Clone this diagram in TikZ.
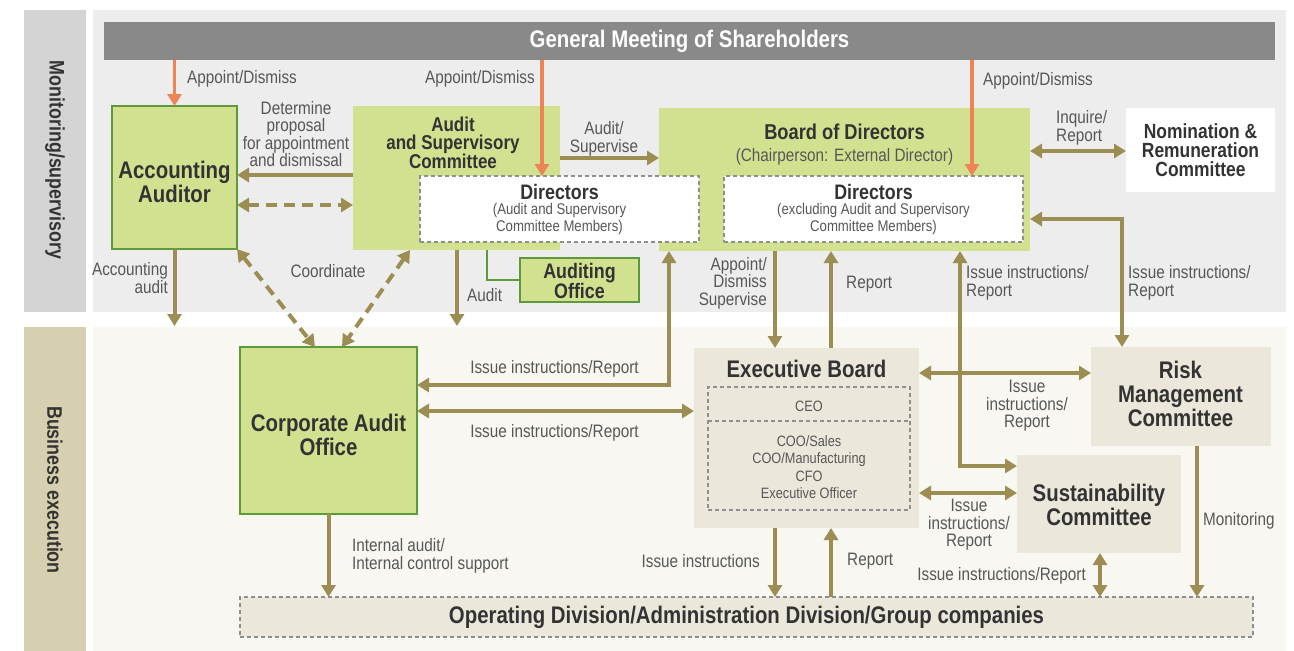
\documentclass[tikz,border=0pt]{standalone}
\usepackage{fontspec}
\setmainfont{Liberation Sans}[FakeStretch=0.85]
\usetikzlibrary{arrows.meta,calc}
\definecolor{olv}{HTML}{9C8D52}
\definecolor{org}{HTML}{EE8455}
\definecolor{grn}{HTML}{D1E190}
\definecolor{grnb}{HTML}{5E9A3C}
\definecolor{bge}{HTML}{EBE7DA}
\definecolor{pnlA}{HTML}{EDEDED}
\definecolor{pnlB}{HTML}{F8F7F2}
\definecolor{barA}{HTML}{D4D4D4}
\definecolor{barB}{HTML}{D6D0B1}
\definecolor{gmc}{HTML}{898989}
\definecolor{txt}{HTML}{333333}
\definecolor{lbl}{HTML}{575757}
\definecolor{dsh}{HTML}{8E8E8E}
\newcommand\myfs[2]{\fontsize{#1}{#2}\selectfont}
\begin{document}
\begin{tikzpicture}[x=1pt,y=-1pt,
  box/.style={anchor=north west,inner sep=0pt,outer sep=0pt},
  gbox/.style={box,fill=grn},
  gboxb/.style={box,fill=grn,draw=grnb,line width=1.2pt},
  dbox/.style={box,fill=white,draw=dsh,dash pattern=on 4pt off 3pt,line width=1.4pt},
  bbox/.style={box,fill=bge},
  ttl/.style={font={\bfseries\myfs{24}{24}},text=txt,align=center,inner sep=0pt},
  lab/.style={font={\myfs{18}{17.5}},text=lbl,inner sep=0pt},
  arr/.style={draw=olv,line width=4pt,-{Triangle[width=14pt,length=12pt]}},
  darr/.style={draw=olv,line width=4pt,{Triangle[width=14pt,length=12pt]}-{Triangle[width=14pt,length=12pt]}},
  oarr/.style={draw=org,line width=3.5pt,-{Triangle[width=14pt,length=12pt]}},
  dsharr/.style={darr,dash pattern=on 11pt off 7pt},
]
\useasboundingbox (0,0) rectangle (1294,651);
% backgrounds
\fill[white] (0,0) rectangle (1294,651);
\fill[barA] (24,10) rectangle (86,312);
\fill[pnlA] (93,10) rectangle (1286,312);
\fill[barB] (24,327) rectangle (86,651);
\fill[pnlB] (93,327) rectangle (1286,651);
\node[rotate=-90,font={\bfseries\myfs{21}{21}},text=txt] (mon) at (55,160) {Monitoring/supervisory};
\node[rotate=-90,font={\bfseries\myfs{21}{21}},text=txt] (bex) at (55,490) {Business execution};

% boxes
\node[box,fill=gmc,minimum width=1171pt,minimum height=38pt,font={\bfseries\myfs{24}{24}},text=white] (gm) at (104,22) {General Meeting of Shareholders};

\node[gboxb,minimum width=125pt,minimum height=143pt] (acc) at (112,106) {};
\node[ttl] (acct) at (174.5,182) {Accounting\\Auditor};

\node[gbox,minimum width=207pt,minimum height=144pt] (asc) at (353,106) {};
\node[ttl,font={\bfseries\myfs{20}{17.5}}] (asct) at (453,143) {Audit\\and Supervisory\\Committee};

\node[gbox,minimum width=371pt,minimum height=143pt] (bod) at (659,108) {};
\node[ttl,font={\bfseries\myfs{21.5}{21.5}}] (bodt) at (844.5,132) {Board of Directors};
\node[lab,font={\myfs{18}{18}}] (bods) at (844.5,157) {(Chairperson: External Director)};

\node[dbox,minimum width=279pt,minimum height=66pt] (asdir) at (420,176) {};
\node[ttl,font={\bfseries\myfs{21}{21}}] (asdirt) at (559.5,192) {Directors};
\node[lab,align=center,font={\myfs{15.5}{17}}] (asdirs) at (559.5,219) {(Audit and Supervisory\\Committee Members)};

\node[dbox,minimum width=299pt,minimum height=66pt] (boddir) at (724,176) {};
\node[ttl,font={\bfseries\myfs{21}{21}}] (boddirt) at (873.5,192) {Directors};
\node[lab,align=center,font={\myfs{15.5}{17}}] (boddirs) at (873.5,219) {(excluding Audit and Supervisory\\Committee Members)};

\node[box,fill=white,minimum width=149pt,minimum height=84pt] (nrc) at (1126,108) {};
\node[ttl,font={\bfseries\myfs{20.5}{19}}] (nrct) at (1200.5,150) {Nomination \&\\Remuneration\\Committee};

\node[gboxb,minimum width=119pt,minimum height=44pt] (ao) at (520,258) {};
\node[ttl,font={\bfseries\myfs{21}{18.5}}] (aot) at (579.5,281) {Auditing\\Office};

\node[gboxb,minimum width=177pt,minimum height=167pt] (coa) at (240,347) {};
\node[ttl] (coat) at (328.5,435) {Corporate Audit\\Office};

\node[bbox,minimum width=225pt,minimum height=180pt] (eb) at (694,348) {};
\node[ttl] (ebt) at (806.5,369) {Executive Board};
\node[box,draw=dsh,dash pattern=on 4pt off 3pt,line width=1.4pt,minimum width=202pt,minimum height=123pt] (ebin) at (708,387) {};
\draw[dsh,dash pattern=on 4pt off 3pt,line width=1.4pt] (ebin.west |- 0,421) -- (ebin.east |- 0,421);
\node[lab,font={\myfs{15}{17.3}}] (ceo) at (809,406) {CEO};
\node[lab,align=center,font={\myfs{15}{17.3}}] (offs) at (809,467) {COO/Sales\\COO/Manufacturing\\CFO\\Executive Officer};

\node[bbox,minimum width=180pt,minimum height=99pt] (rmc) at (1091,347) {};
\node[ttl] (rmct) at (1180.5,394) {Risk\\Management\\Committee};

\node[bbox,minimum width=164pt,minimum height=98pt] (sc) at (1017,455) {};
\node[ttl] (sct) at (1099,505) {Sustainability\\Committee};

\node[box,fill=bge,draw=dsh,dash pattern=on 4pt off 3pt,line width=1.4pt,minimum width=1013pt,minimum height=40pt] (op) at (240,597) {};
\node[ttl] (opt) at (746.5,617) {Operating Division/Administration Division/Group companies};

% orange arrows
\draw[oarr] (gm.south -| acc.north) -- (acc.north);
\draw[oarr] (gm.south -| 542,0) -- (asdir.north -| 542,0);
\draw[oarr] (gm.south -| 972,0) -- (boddir.north -| 972,0);

% olive arrows
\draw[arr] (asc.west |- 0,175) -- (acc.east |- 0,175);
\draw[dsharr] (acc.east |- 0,205) -- (asc.west |- 0,205);
\coordinate (accend) at (174.5,326);
\draw[arr] (acc.south) -- (accend);
\draw[dsharr] (acc.south east) -- (coa.north -| 315,0);
\draw[dsharr] (asc.south -| 410,0) -- (coa.north -| 342,0);
\coordinate (audend) at (457,326);
\draw[arr] (asc.south -| audend) -- (audend);
\draw[grnb,line width=1.2pt] (asc.south -| 487,0) |- (ao.west);
\draw[arr] (asc.east |- 0,158) -- (bod.west |- 0,158);
\draw[darr] (bod.east |- 0,151) -- (nrc.west |- 0,151);
\draw[darr] (bod.east |- 0,219) -| (rmc.north -| 1122,0);
\draw[darr] (coa.east |- 0,385) -| (bod.south -| 669,0);
\draw[darr] (coa.east |- 0,411) -- (eb.west |- 0,411);
\draw[arr] (bod.south -| 775,0) -- (eb.north -| 775,0);
\draw[arr] (eb.north -| 831,0) -- (bod.south -| 831,0);
\draw[darr] (bod.south -| 960,0) |- (sc.west |- 0,466);
\draw[darr] (eb.east |- 0,373) -- (rmc.west |- 0,373);
\draw[darr] (eb.east |- 0,493) -- (sc.west |- 0,493);
\draw[arr] (eb.south -| 775,0) -- (op.north -| 775,0);
\draw[arr] (op.north -| 831,0) -- (eb.south -| 831,0);
\draw[arr] (coa.south) -- (op.north -| coa.south);
\draw[darr] (sc.south -| 1100,0) -- (op.north -| 1100,0);
\draw[arr] (rmc.south -| 1197,0) -- (op.north -| 1197,0);

% labels
\node[lab,anchor=west] (l1) at (187,79) {Appoint/Dismiss};
\node[lab,anchor=east] (l2) at (535,79) {Appoint/Dismiss};
\node[lab,anchor=west] (l3) at (983,81) {Appoint/Dismiss};
\node[lab,align=center] (l4) at (296,134) {Determine\\proposal\\for appointment\\and dismissal};
\node[lab,align=right,anchor=east] (l5) at (168,278) {Accounting\\audit};
\node[lab] (l6) at (328,271) {Coordinate};
\node[lab,anchor=west] (l7) at (467,295) {Audit};
\node[lab,align=center] (l8) at (604,139) {Audit/\\Supervise};
\node[lab,align=left,anchor=west] (l9) at (1056,128) {Inquire/\\Report};
\node[lab,align=right,anchor=east] (l10) at (767,283) {Appoint/\\Dismiss\\Supervise};
\node[lab,anchor=west] (l11) at (846,284) {Report};
\node[lab,align=left,anchor=west] (l12) at (966,283) {Issue instructions/\\Report};
\node[lab,align=left,anchor=west] (l13) at (1128,283) {Issue instructions/\\Report};
\node[lab] (l14) at (554.5,369) {Issue instructions/Report};
\node[lab] (l15) at (554.5,433) {Issue instructions/Report};
\node[lab,align=center] (l16) at (1027,406) {Issue\\instructions/\\Report};
\node[lab,align=center] (l17) at (969,525) {Issue\\instructions/\\Report};
\node[lab,anchor=east] (l18) at (760,561) {Issue instructions};
\node[lab,anchor=west] (l19) at (847,561) {Report};
\node[lab,anchor=east] (l20) at (1086,576) {Issue instructions/Report};
\node[lab,anchor=west] (l21) at (1203,521) {Monitoring};
\node[lab,align=left,anchor=west] (l22) at (352,556) {Internal audit/\\Internal control support};
\end{tikzpicture}
\end{document}
